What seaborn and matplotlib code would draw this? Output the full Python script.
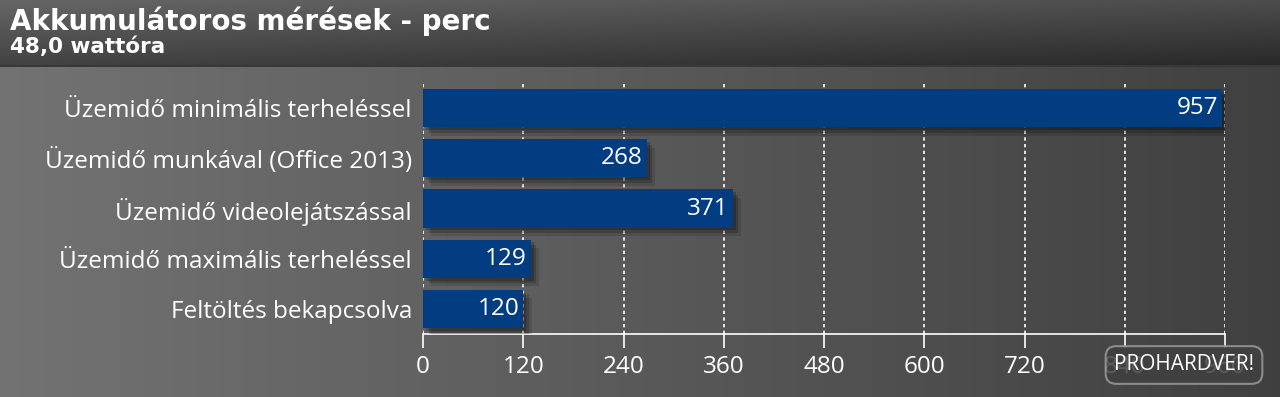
import numpy as np
import pandas as pd
import seaborn as sns
import matplotlib.pyplot as plt
import matplotlib.patheffects as pe

TITLE = 'Akkumulátoros mérések - perc'
SUBTITLE = '48,0 wattóra'
CATEGORIES = [
    'Üzemidő minimális terheléssel',
    'Üzemidő munkával (Office 2013)',
    'Üzemidő videolejátszással',
    'Üzemidő maximális terheléssel',
    'Feltöltés bekapcsolva',
]
VALUES = [957, 268, 371, 129, 120]
TICKS = [0, 120, 240, 360, 480, 600, 720, 840, 960]

BAR_COLOR = '#023d82'

df = pd.DataFrame({'cat': CATEGORIES, 'perc': VALUES})

sns.set_theme(style='white')
plt.rcParams['font.family'] = ['Open Sans', 'DejaVu Sans']

fig = plt.figure(figsize=(12.8, 3.97), dpi=100)

# háttér színátmenet
bg = fig.add_axes([0, 0, 1, 1], zorder=-10)
bg.axis('off')
H, W = 397, 1280
xs = np.linspace(0, 1, W)
body = np.tile(0.45 - 0.20 * xs, (H, 1))
head_rows = 66
yy = np.linspace(0, 1, head_rows)[:, None]
body[:head_rows] = (0.40 - 0.14 * yy) - 0.10 * xs[None, :]
body[head_rows - 1:head_rows + 1] = 0.22
img = np.dstack([body] * 3)
bg.imshow(img, aspect='auto', extent=[0, 1, 0, 1], interpolation='bilinear')
bg.set_xlim(0, 1)
bg.set_ylim(0, 1)

ax = fig.add_axes([423 / 1280, 1 - 334 / 397, (1225 - 423) / 1280, 251 / 397])
ax.patch.set_alpha(0)

sns.barplot(data=df, y='cat', x='perc', color=BAR_COLOR, saturation=1,
            width=0.76, linewidth=0, ax=ax, zorder=3)
for p in ax.patches:
    p.set_path_effects([
        pe.SimplePatchShadow(offset=(6, -6), alpha=0.12, shadow_rgbFace='black'),
        pe.SimplePatchShadow(offset=(4, -4), alpha=0.18, shadow_rgbFace='black'),
        pe.SimplePatchShadow(offset=(2, -2), alpha=0.2, shadow_rgbFace='black'),
        pe.Normal()])

ax.set_xlim(0, 960)
ax.set_ylim(4.5, -0.5)
ax.set_xticks(TICKS)
ax.set_xlabel('')
ax.set_ylabel('')

for v, p in zip(VALUES, ax.patches):
    ax.text(p.get_width() - 5, p.get_y() + p.get_height() / 2, str(v),
            ha='right', va='center', color='white', fontsize=17.5, zorder=5)

for t in TICKS:
    ax.axvline(t, color='white', ls=(0, (2, 2)), lw=1.2, zorder=1)

for s in ['top', 'right', 'left']:
    ax.spines[s].set_visible(False)
ax.spines['bottom'].set_color('white')
ax.spines['bottom'].set_linewidth(1.2)
ax.tick_params(axis='x', colors='white', labelsize=17.5, length=10, width=1.2,
               direction='out', bottom=True, pad=5)
ax.tick_params(axis='y', colors='white', labelsize=17.5, length=0, pad=8)
ax.grid(False)

fig.text(10 / 1280, 1 - 21 / 397, TITLE, color='white', fontsize=20,
         fontweight='bold', family='DejaVu Sans', va='center', ha='left')
fig.text(10 / 1280, 1 - 47 / 397, SUBTITLE, color='white', fontsize=15.5,
         fontweight='bold', family='DejaVu Sans', va='center', ha='left')

fig.text(1184 / 1280, 1 - 365 / 397, 'PROHARDVER!', color='white', fontsize=15,
         ha='center', va='center', zorder=10,
         bbox=dict(boxstyle='round,pad=0.4,rounding_size=0.5', fc='#404040',
                   ec='#9a9a9a', lw=1.5, alpha=0.85))

fig.savefig('out.png', dpi=100)
